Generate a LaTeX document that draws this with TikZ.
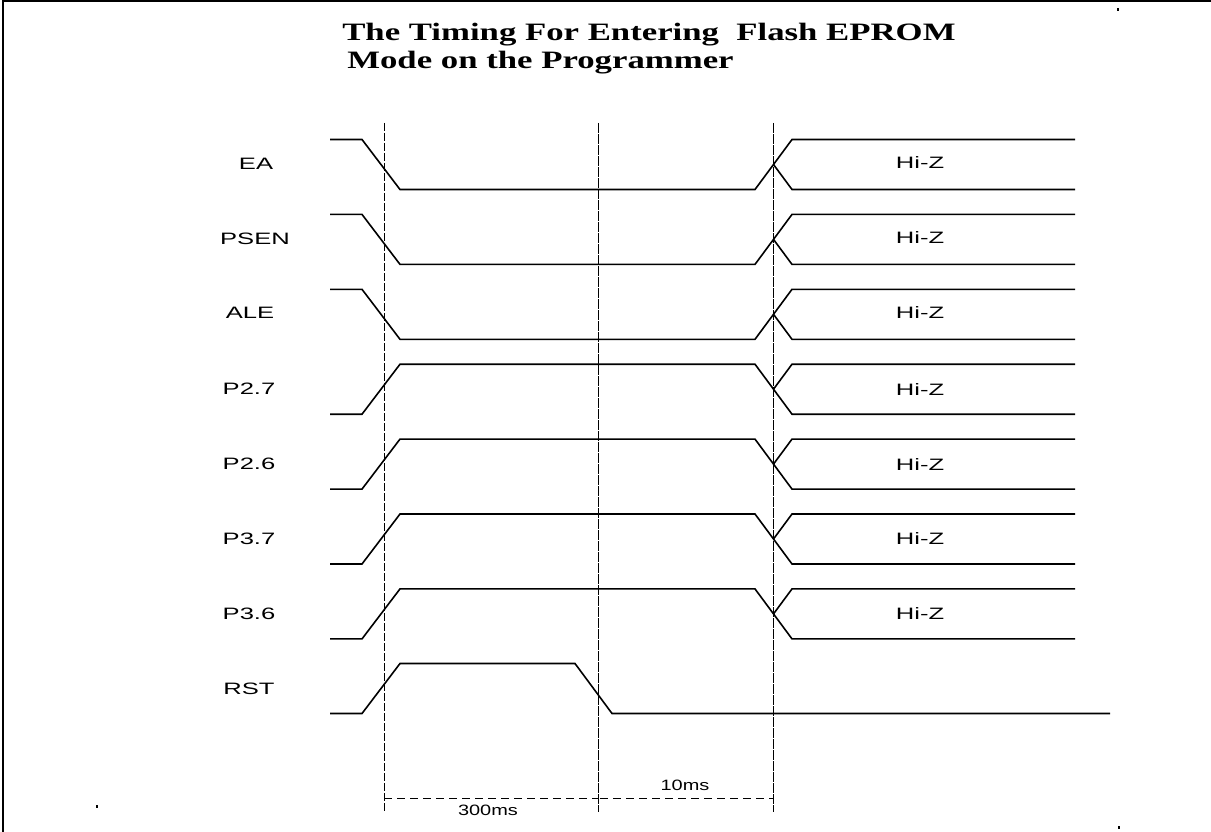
\documentclass[tikz,border=0pt]{standalone}
\usepackage{fontspec}
\setmainfont{Liberation Serif}
\setsansfont{Liberation Sans}
\usetikzlibrary{calc}

\tikzset{
  wave/.style={line width=1.6pt, line join=miter},
  marker/.style={line width=0.9pt, dash pattern=on 8pt off 2pt},
  span/.style={line width=0.9pt, dash pattern=on 8pt off 5pt},
  heading/.style={anchor=base west, inner sep=0, xscale=1.39, font=\bfseries\fontsize{25}{28}\selectfont},
  sig/.style={xscale=1.55, font=\sffamily\fontsize{16.5}{16.5}\selectfont},
  dimlabel/.style={xscale=1.33, font=\sffamily\fontsize{15}{15}\selectfont},
}

\begin{document}
\begin{tikzpicture}[x=1pt,y=-1pt]
  \useasboundingbox (0,0) rectangle (1211,832);
  % frame
  \draw[line width=2pt] (3,832) -- (3,1.5) -- (1211,1.5);
  \fill (1117,8) rectangle (1119,11);
  \fill (96,805) rectangle (98,808);
  \fill (1118,826) rectangle (1120,829);
  % title
  \node[heading] (title1) at (342,41) {The Timing For Entering~~Flash EPROM};
  \node[heading] (title2) at (347,69) {Mode on the Programmer};
  % time markers
  \coordinate (t0) at (384,123);
  \coordinate (t1) at (598,123);
  \coordinate (t2) at (773.5,123);
  \draw[marker] (t0) -- (384,812);
  \draw[marker, dash pattern=on 10pt off 1pt] (t1) -- (598,812);
  \draw[marker, dash pattern=on 10pt off 1pt] (t2) -- (773.5,812);
  % signals going low, then Hi-Z
  \foreach \i/\txt/\x in {0/EA/256,1/PSEN/255,2/ALE/250} {
    \pgfmathsetmacro\yh{139.5+74.9*\i}
    \pgfmathsetmacro\yl{\yh+50}
    \pgfmathsetmacro\ym{\yh+25}
    \node[sig] (sig\i) at (\x,\ym-1) {\txt};
    \draw[wave] (330,\yh) -- (362,\yh) -- (400,\yl) -- (755,\yl) -- (792,\yh) -- (1075,\yh);
    \draw[wave] (773.5,\ym) -- (792,\yl) -- (1075,\yl);
    \node[sig] (hiz\i) at (920,\ym-2) {Hi-Z};
  }
  % signals going high, then Hi-Z
  \foreach \i/\txt in {3/P2.7,4/P2.6,5/P3.7,6/P3.6} {
    \pgfmathsetmacro\yh{139.5+74.9*\i}
    \pgfmathsetmacro\yl{\yh+50}
    \pgfmathsetmacro\ym{\yh+25}
    \node[sig] (sig\i) at (249,\ym) {\txt};
    \draw[wave] (330,\yl) -- (362,\yl) -- (400,\yh) -- (755,\yh) -- (792,\yl) -- (1075,\yl);
    \draw[wave] (773.5,\ym) -- (792,\yh) -- (1075,\yh);
    \node[sig] (hiz\i) at (920,\ym) {Hi-Z};
  }
  % reset pulse
  \node[sig] (sig7) at (249,688.5) {RST};
  \draw[wave] (330,713.5) -- (362,713.5) -- (400,663.5) -- (575,663.5) -- (612,713.5) -- (1110,713.5);
  % durations
  \draw[span] (384,798) -- (598,798);
  \draw[span] (600,798) -- (773.5,798);
  \node[dimlabel] (d300) at (488,810) {300ms};
  \node[dimlabel] (d10) at (685,785) {10ms};
\end{tikzpicture}
\end{document}
